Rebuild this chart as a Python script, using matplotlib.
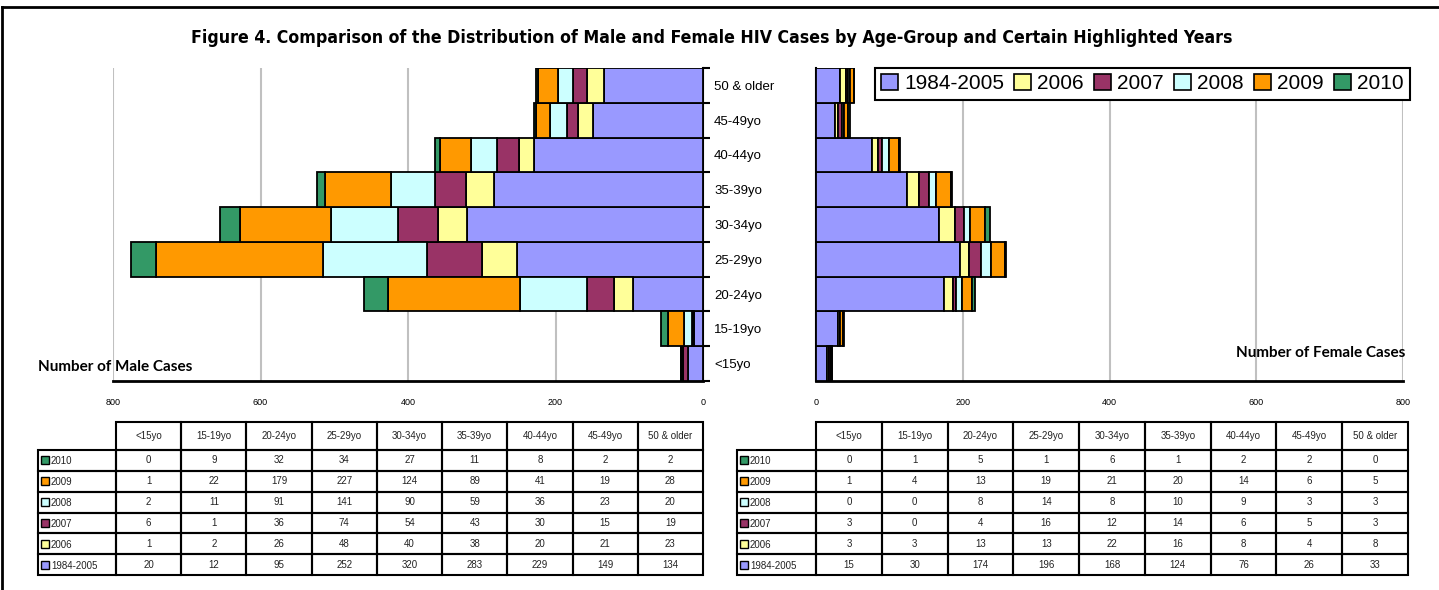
import matplotlib
matplotlib.use('Agg')
import matplotlib.pyplot as plt
from matplotlib.patches import Rectangle, Patch
from matplotlib.lines import Line2D
import numpy as np

# ---------------- data ----------------
age_groups = ["<15yo", "15-19yo", "20-24yo", "25-29yo", "30-34yo",
              "35-39yo", "40-44yo", "45-49yo", "50 & older"]
table_cols = ["<15yo", "15-19yo", "20-24yo", "25-29yo", "30-34yo",
              "35-39yo", "40-44yo", "45-49yo", "50 & older"]
series = ["1984-2005", "2006", "2007", "2008", "2009", "2010"]
series_colors = ["#9999FF", "#FFFF99", "#993366", "#CCFFFF", "#FF9900", "#339966"]

male_1984_2005 = [20, 12, 95, 252, 320, 283, 229, 149, 134]
male_2006 = [1, 2, 26, 48, 40, 38, 20, 21, 23]
male_2007 = [6, 1, 36, 74, 54, 43, 30, 15, 19]
male_2008 = [2, 11, 91, 141, 90, 59, 36, 23, 20]
male_2009 = [1, 22, 179, 227, 124, 89, 41, 19, 28]
male_2010 = [0, 9, 32, 34, 27, 11, 8, 2, 2]

female_1984_2005 = [15, 30, 174, 196, 168, 124, 76, 26, 33]
female_2006 = [3, 3, 13, 13, 22, 16, 8, 4, 8]
female_2007 = [3, 0, 4, 16, 12, 14, 6, 5, 3]
female_2008 = [0, 0, 8, 14, 8, 10, 9, 3, 3]
female_2009 = [1, 4, 13, 19, 21, 20, 14, 6, 5]
female_2010 = [0, 1, 5, 1, 6, 1, 2, 2, 0]

male = [male_1984_2005, male_2006, male_2007, male_2008, male_2009, male_2010]
female = [female_1984_2005, female_2006, female_2007, female_2008, female_2009, female_2010]

title = ("Figure 4. Comparison of the Distribution of Male and Female HIV Cases "
         "by Age-Group and Certain Highlighted Years")

# ---------------- layout ----------------
W, H = 1439, 590
fig = plt.figure(figsize=(W / 100, H / 100), dpi=100)
TXT = ['Liberation Sans', 'DejaVu Sans']


def px_axes(x0, y0, x1, y1):
    return fig.add_axes([x0 / W, 1 - y1 / H, (x1 - x0) / W, (y1 - y0) / H])


def style_bar_axes(ax, side):
    ax.set_ylim(-0.5, len(age_groups) - 0.5)
    if side == 'left':
        ax.set_xlim(800, 0)
    else:
        ax.set_xlim(0, 800)
    ax.set_xticks([0, 200, 400, 600, 800])
    ax.tick_params(axis='x', length=0, labelsize=6.5, pad=12)
    for lab in ax.get_xticklabels():
        lab.set_family(TXT)
    ax.xaxis.grid(True, color='#c0c0c0', lw=1.5)
    ax.set_axisbelow(True)
    for s in ['top', 'left', 'right']:
        ax.spines[s].set_visible(False)
    ax.spines['bottom'].set_linewidth(2)
    if side == 'left':
        ax.spines['right'].set_visible(True)
        ax.spines['right'].set_linewidth(1.5)
        ax.yaxis.tick_right()
        ax.set_yticks(range(len(age_groups)))
        ax.set_yticklabels(age_groups, family=TXT, fontsize=9.5)
        ax.set_yticks(np.arange(-0.5, len(age_groups), 1), minor=True)
        ax.tick_params(axis='y', which='major', length=0, pad=8)
        ax.tick_params(axis='y', which='minor', length=5, width=1.5, right=True)
    else:
        ax.spines['left'].set_visible(True)
        ax.spines['left'].set_linewidth(1.5)
        ax.set_yticks([])


def draw_bars(ax, data):
    y = np.arange(len(age_groups))
    left = np.zeros(len(age_groups))
    for vals, col in zip(data, series_colors):
        ax.barh(y, vals, left=left, height=1.0, color=col,
                edgecolor='black', linewidth=1.3, zorder=3)
        left = left + np.array(vals)


axL = px_axes(113, 68, 703, 381)
draw_bars(axL, male)
style_bar_axes(axL, 'left')

axR = px_axes(816, 68, 1403, 381)
draw_bars(axR, female)
style_bar_axes(axR, 'right')

fig.text(38 / W, 1 - 367 / H, "Number of Male Cases", ha='left', va='center',
         fontsize=11, fontweight='bold', family=['Lato', 'DejaVu Sans'])
fig.text(1405 / W, 1 - 353 / H, "Number of Female Cases", ha='right', va='center',
         fontsize=11, fontweight='bold', family=['Lato', 'DejaVu Sans'])

ttl = fig.text(712 / W, 1 - 38 / H, title, ha='center', va='center', fontsize=15,
               fontweight='bold', fontstretch='condensed',
               family=['DejaVu Sans'])
# fit the title to the reference width (~1044 px)
renderer = fig.canvas.get_renderer()
tw = ttl.get_window_extent(renderer).width
if tw > 1044:
    ttl.set_fontsize(15 * 1044 / tw)

handles = [Patch(facecolor=c, edgecolor='black', linewidth=1.2) for c in series_colors]
leg = fig.legend(handles, series, loc='upper right',
                 bbox_to_anchor=(1410 / W, 1 - 68 / H), ncol=6,
                 prop={'family': TXT, 'size': 15}, frameon=True, fancybox=False,
                 edgecolor='black', framealpha=1, handlelength=0.8,
                 handleheight=0.8, handletextpad=0.3, columnspacing=0.5,
                 borderpad=0.3, borderaxespad=0)
leg.get_frame().set_linewidth(1.5)


# ---------------- tables ----------------
def draw_table(data, x0, xlab, x1, y0, yh, y1):
    ax = px_axes(x0, y0, x1, y1)
    ax.set_xlim(x0, x1)
    ax.set_ylim(y1, y0)
    ax.axis('off')
    ncol = len(table_cols)
    cw = (x1 - xlab) / ncol
    row_series = list(range(len(series)))[::-1]  # 2010 first
    rh = (y1 - yh) / len(row_series)
    kw = dict(fill=False, edgecolor='black', linewidth=1.5, clip_on=False)
    for j, c in enumerate(table_cols):
        cx = xlab + j * cw
        ax.add_patch(Rectangle((cx, y0), cw, yh - y0, **kw))
        ax.text(cx + cw / 2, (y0 + yh) / 2, c, ha='center', va='center',
                fontsize=7, family=TXT, color='#222222')
    for i, s in enumerate(row_series):
        ry = yh + i * rh
        ax.add_patch(Rectangle((x0, ry), xlab - x0, rh, **kw))
        ax.add_patch(Rectangle((x0 + 3, ry + rh / 2 - 4), 8, 8,
                               facecolor=series_colors[s], edgecolor='black',
                               linewidth=1, clip_on=False))
        ax.text(x0 + 13, ry + rh / 2 + 1, series[s], ha='left', va='center',
                fontsize=7, family=TXT, color='#222222')
        for j in range(ncol):
            cx = xlab + j * cw
            ax.add_patch(Rectangle((cx, ry), cw, rh, **kw))
            ax.text(cx + cw / 2, ry + rh / 2, str(data[s][j]), ha='center',
                    va='center', fontsize=7, family=TXT, color='#222222')


draw_table(male, 38, 116, 703, 422, 450, 575)
draw_table(female, 737, 816, 1408, 422, 450, 575)

# outer frame (top and left edges visible)
fig.add_artist(Line2D([2 / W, 1], [1 - 7 / H, 1 - 7 / H], color='black', lw=2,
                      transform=fig.transFigure))
fig.add_artist(Line2D([2 / W, 2 / W], [0, 1 - 7 / H], color='black', lw=2,
                      transform=fig.transFigure))

fig.savefig('out.png', dpi=100, facecolor='white')
